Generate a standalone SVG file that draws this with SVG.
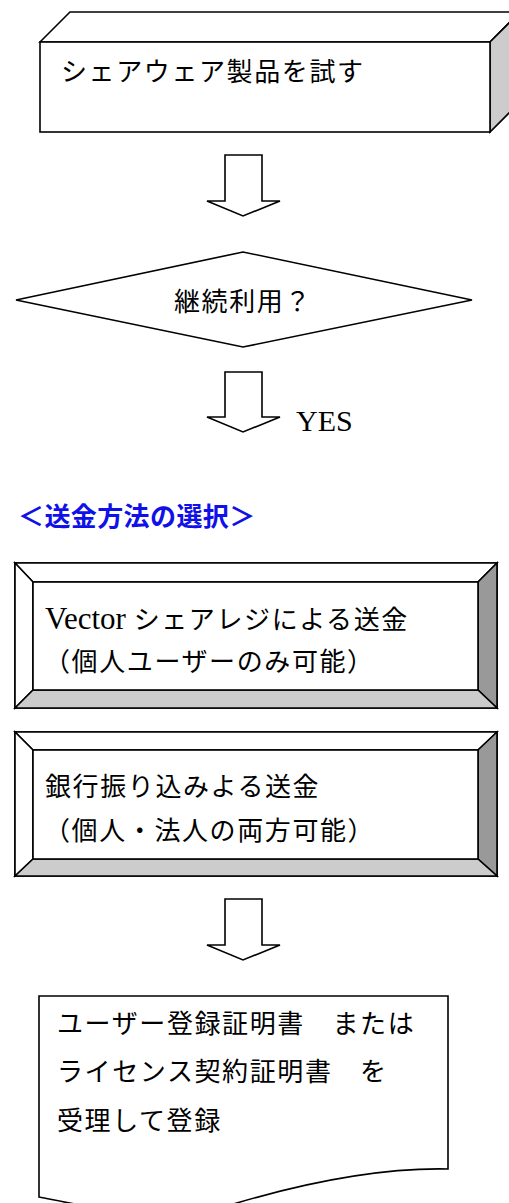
<svg xmlns="http://www.w3.org/2000/svg" width="509" height="1203" viewBox="0 0 509 1203">
<style>
.s{stroke:#000;stroke-width:1.6;stroke-linejoin:miter}
.w{fill:#fff}
.g1{fill:#cccccc}
.g2{fill:#999999}
.t{font-family:"Noto Sans CJK JP","Noto Sans CJK SC",sans-serif;font-size:26px;letter-spacing:1.6px;fill:#000}
.serif{font-family:"Liberation Serif",serif;letter-spacing:0}
.blue{font-family:"Noto Sans CJK JP",sans-serif;font-size:26px;font-weight:bold;letter-spacing:0.4px;fill:#1010e8}
</style>
<rect width="509" height="1203" fill="#fff"/>
<g id="connectors">
<polygon class="s w" points="225,155 262,155 262,201 280,201 243,216 207,201 225,201"/>
<polygon class="s w" points="225,372 262,372 262,417 280,417 243,432 207,417 225,417"/>
<text x="296" y="431" class="serif" font-size="30" fill="#000">YES</text>
<polygon class="s w" points="225,899 262,899 262,945 280,945 243,960 207,945 225,945"/>
</g>
<g id="n1">
<polygon class="s w" points="40,42 70,12 520,12 490,42"/>
<polygon class="s g1" points="490,42 520,12 520,102 490,132"/>
<rect class="s w" x="40" y="42" width="450" height="90"/>
<text class="t" x="61" y="81">シェアウェア製品を試す</text>
</g>
<g id="n2">
<polygon class="s w" points="16,300 243,252 472,300 243,347"/>
<text class="t" x="174" y="311">継続利用？</text>
</g>
<g id="title">
<text class="blue" x="18" y="526">＜送金方法の選択＞</text>
</g>
<g id="n3">
<rect class="s w" x="15" y="563" width="482" height="145"/>
<polygon class="s w" points="15,563 497,563 478,582 33,582"/>
<polygon class="s w" points="15,563 33,582 33,690 15,708"/>
<polygon class="s g2" points="497,563 497,708 478,690 478,582"/>
<polygon class="s g1" points="15,708 33,690 478,690 497,708"/>
<rect class="s w" x="33" y="582" width="445" height="108"/>
<text class="t" x="45" y="629"><tspan class="serif" font-size="31">Vector </tspan>シェアレジによる送金</text>
<text class="t" x="44" y="671">（個人ユーザーのみ可能）</text>
</g>
<g id="n4">
<rect class="s w" x="15" y="732" width="482" height="144"/>
<polygon class="s w" points="15,732 497,732 478,750 33,750"/>
<polygon class="s w" points="15,732 33,750 33,859 15,876"/>
<polygon class="s g2" points="497,732 497,876 478,859 478,750"/>
<polygon class="s g1" points="15,876 33,859 478,859 497,876"/>
<rect class="s w" x="33" y="750" width="445" height="109"/>
<text class="t" x="45" y="796">銀行振り込みよる送金</text>
<text class="t" x="44" y="840">（個人・法人の両方可能）</text>
</g>
<g id="n5">
<path class="s w" d="M39,996 H448 V1169 C400,1168 330,1175 230,1205 C160,1224 90,1207 39,1197 Z"/>
<text class="t" x="57" y="1033">ユーザー登録証明書　または</text>
<text class="t" x="57" y="1081">ライセンス契約証明書　を</text>
<text class="t" x="57" y="1130">受理して登録</text>
</g>
</svg>
